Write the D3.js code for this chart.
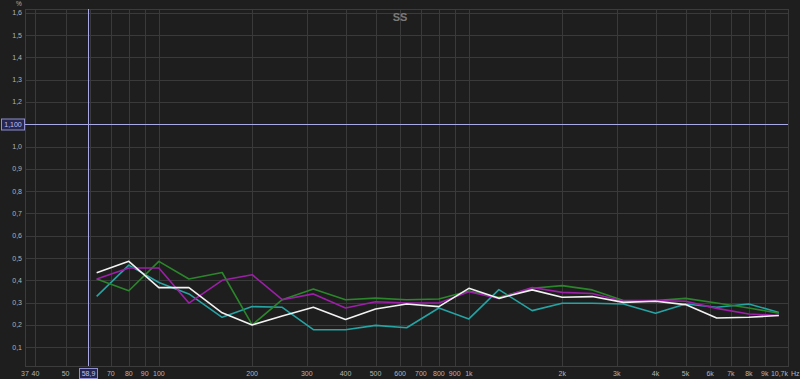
<!DOCTYPE html>
<html>
<head>
<meta charset="utf-8">
<script src="https://cdn.jsdelivr.net/npm/d3@7"></script>
<style>
  body { margin: 0; background: #1e1e1e; }
  svg { display: block; }
  text { font-family: "Liberation Sans", Arial, sans-serif; }
</style>
</head>
<body>
<script>
// 1/3 octave bands
const freqs = [63, 80, 100, 125, 160, 200, 250, 315, 400, 500, 630, 800, 1000,
  1250, 1600, 2000, 2500, 3150, 4000, 5000, 6300, 8000, 10000];

const tealVals = [0.328, 0.468, 0.39, 0.339, 0.234, 0.282, 0.279, 0.179, 0.178, 0.198, 0.187, 0.276, 0.227,
  0.358, 0.264, 0.297, 0.297, 0.294, 0.252, 0.294, 0.279, 0.294, 0.256];
const greenVals = [0.406, 0.353, 0.485, 0.406, 0.435, 0.20, 0.313, 0.361, 0.313, 0.32, 0.313, 0.316, 0.352,
  0.324, 0.364, 0.376, 0.357, 0.309, 0.309, 0.319, 0.298, 0.276, 0.252];
const magentaVals = [0.406, 0.455, 0.455, 0.298, 0.40, 0.425, 0.313, 0.339, 0.276, 0.304, 0.298, 0.298, 0.349,
  0.319, 0.368, 0.346, 0.341, 0.306, 0.309, 0.306, 0.274, 0.249, 0.242];
const whiteVals = [0.434, 0.485, 0.367, 0.367, 0.254, 0.20, 0.24, 0.279, 0.224, 0.271, 0.294, 0.282, 0.364,
  0.319, 0.357, 0.324, 0.327, 0.301, 0.306, 0.291, 0.231, 0.234, 0.242];

const xTicks = [40, 50, 60, 70, 80, 90, 100, 200, 300, 400, 500, 600, 700, 800, 900, 1000,
  2000, 3000, 4000, 5000, 6000, 7000, 8000, 9000];
const xTickLabels = ["40", "50", "", "70", "80", "90", "100", "200", "300", "400", "500", "600", "700", "800", "900", "1k",
  "2k", "3k", "4k", "5k", "6k", "7k", "8k", "9k"];
const yTicks = [0.1, 0.2, 0.3, 0.4, 0.5, 0.6, 0.7, 0.8, 0.9, 1.0, 1.1, 1.2, 1.3, 1.4, 1.5, 1.6];

const cursorFreq = 58.9, cursorVal = 1.1;

const W = 800, H = 379;
const plot = {left: 25, right: 788, top: 9, bottom: 366};
const labelColor = "#b4b4b4", fs = 7;

const svg = d3.select("body").append("svg")
  .attr("width", W).attr("height", H);

svg.append("rect").attr("width", W).attr("height", H).attr("fill", "#1e1e1e");

const x = d3.scaleLog().domain([37, 10700]).range([plot.left, plot.right]);
const y = d3.scaleLinear().domain([0, 1.6]).range([369.5, 12.7]);

const fmt = v => d3.format(".1f")(v).replace(".", ",");

// grid
svg.append("g").selectAll("line")
  .data(yTicks)
  .enter().append("line")
  .attr("x1", plot.left).attr("x2", plot.right)
  .attr("y1", d => Math.round(y(d)) + 0.5).attr("y2", d => Math.round(y(d)) + 0.5)
  .attr("stroke", "#3a3a3a");

svg.append("g").selectAll("line")
  .data(xTicks)
  .enter().append("line")
  .attr("x1", d => Math.round(x(d)) + 0.5).attr("x2", d => Math.round(x(d)) + 0.5)
  .attr("y1", plot.top).attr("y2", plot.bottom)
  .attr("stroke", "#3a3a3a");

// frame
svg.append("rect")
  .attr("x", plot.left + 0.5).attr("y", plot.top + 0.5)
  .attr("width", plot.right - plot.left).attr("height", plot.bottom - plot.top)
  .attr("fill", "none").attr("stroke", "#3c3c3c");

// y labels
svg.append("g").selectAll("text")
  .data(yTicks.filter(d => Math.abs(d - cursorVal) > 0.01))
  .enter().append("text")
  .attr("x", 22).attr("y", d => y(d) + 2.5)
  .attr("text-anchor", "end")
  .attr("font-size", fs)
  .attr("fill", labelColor)
  .text(d => fmt(d));

svg.append("text").attr("x", 19).attr("y", 6)
  .attr("text-anchor", "middle").attr("font-size", 6.5).attr("fill", labelColor).text("%");

// x labels
const xl = svg.append("g");
xl.selectAll("text")
  .data(xTicks.map((d, i) => ({f: d, t: xTickLabels[i]})).filter(d => d.t))
  .enter().append("text")
  .attr("x", d => x(d.f)).attr("y", 376)
  .attr("text-anchor", "middle")
  .attr("font-size", fs)
  .attr("fill", labelColor)
  .text(d => d.t);
xl.append("text").attr("x", x(37)).attr("y", 376).attr("text-anchor", "middle")
  .attr("font-size", fs).attr("fill", labelColor).text("37");
xl.append("text").attr("x", plot.right).attr("y", 376).attr("text-anchor", "end")
  .attr("font-size", fs).attr("fill", labelColor).text("10,7k");
xl.append("text").attr("x", 791).attr("y", 376)
  .attr("font-size", fs).attr("fill", labelColor).text("Hz");

// title
svg.append("text").attr("x", 400).attr("y", 21)
  .attr("text-anchor", "middle").attr("font-size", 11).attr("font-weight", "bold")
  .attr("fill", "#7a7a7a").text("SS");

// series
const series = [
  {vals: tealVals, color: "#26a3a3"},
  {vals: greenVals, color: "#2b862b"},
  {vals: magentaVals, color: "#9c1fa8"},
  {vals: whiteVals, color: "#f2f2f2"}
];

const line = d3.line()
  .x((d, i) => x(freqs[i]))
  .y(d => y(d));

svg.append("g").selectAll("path")
  .data(series)
  .enter().append("path")
  .attr("d", d => line(d.vals))
  .attr("fill", "none")
  .attr("stroke", d => d.color)
  .attr("stroke-width", 1.6)
  .attr("stroke-linejoin", "round");

// cursor
const cx = Math.round(x(cursorFreq)) + 0.5;
const cy = Math.round(y(cursorVal)) + 0.5;
svg.append("line").attr("x1", cx).attr("x2", cx).attr("y1", plot.top).attr("y2", plot.bottom)
  .attr("stroke", "#a9a9e6");
svg.append("line").attr("x1", plot.left).attr("x2", plot.right).attr("y1", cy).attr("y2", cy)
  .attr("stroke", "#a9a9e6");

svg.append("rect").attr("x", 1.5).attr("y", cy - 5.5).attr("width", 23).attr("height", 11)
  .attr("fill", "#262650").attr("stroke", "#8e8ed0");
svg.append("text").attr("x", 13).attr("y", cy + 2.5).attr("text-anchor", "middle")
  .attr("font-size", fs).attr("fill", "#c0c0f0").text(d3.format(".3f")(cursorVal).replace(".", ","));

svg.append("rect").attr("x", cx - 9).attr("y", 368.5).attr("width", 18).attr("height", 10)
  .attr("fill", "#262650").attr("stroke", "#8e8ed0");
svg.append("text").attr("x", cx).attr("y", 376).attr("text-anchor", "middle")
  .attr("font-size", fs).attr("fill", "#c0c0f0").text(String(cursorFreq).replace(".", ","));
</script>
</body>
</html>
